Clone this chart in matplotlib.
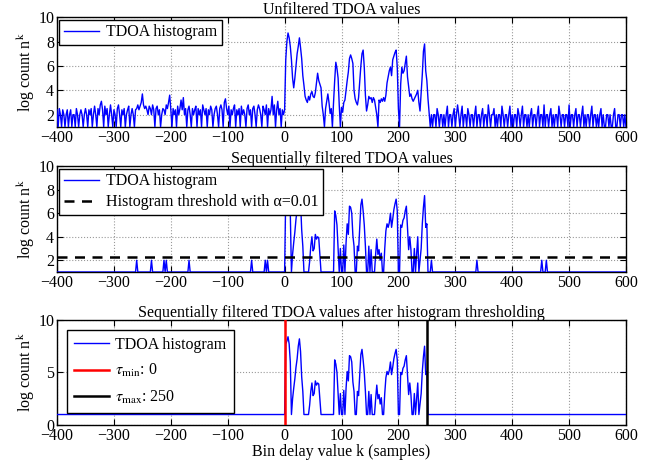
import numpy as np
import matplotlib
matplotlib.use("Agg")
import matplotlib.pyplot as plt

plt.rcParams['font.family'] = ['Liberation Serif', 'DejaVu Serif']
plt.rcParams['mathtext.fontset'] = 'stix'
plt.rcParams['font.size'] = 11.5

# ---------------- data ----------------
# Unfiltered histogram, noise region k = -400 .. -2 (step 2)
raw_left = [
    2.4, 1.0, 2.5, 2.0, 1.0, 2.4, 2.0, 1.0, 2.0, 2.4,
    1.0, 2.0, 2.4, 1.0, 2.0, 2.0, 1.0, 2.5, 2.0, 1.0,
    2.0, 2.4, 2.0, 1.0, 2.0, 2.5, 2.0, 1.0, 2.4, 2.0,
    2.5, 1.0, 2.0, 2.7, 2.0, 1.0, 2.5, 2.0, 2.8, 3.1,
    2.4, 1.0, 2.7, 2.0, 2.5, 1.0, 2.0, 2.8, 2.0, 1.0,
    2.4, 2.0, 1.0, 2.5, 2.8, 2.0, 1.0, 2.4, 2.0, 2.5,
    1.0, 2.0, 2.4, 2.7, 1.0, 2.0, 2.5, 2.0, 1.0, 2.4,
    2.5, 2.8, 2.4, 2.7, 3.0, 3.7, 2.8, 2.5, 2.7, 2.4,
    2.0, 2.7, 2.5, 2.0, 2.8, 2.4, 1.0, 2.5, 2.7, 2.0,
    2.4, 1.0, 2.0, 2.5, 2.4, 2.0, 2.8, 2.5, 3.0, 3.6,
    2.4, 1.0, 2.5, 2.0, 2.4, 1.0, 2.7, 2.0, 2.5, 3.2,
    2.4, 3.4, 2.0, 2.5, 1.0, 2.4, 2.7, 2.0, 1.0, 2.5,
    2.0, 2.4, 2.7, 1.0, 2.5, 2.0, 2.4, 1.0, 2.8, 2.4,
    2.0, 2.5, 1.0, 2.4, 2.0, 2.7, 2.4, 1.0, 2.0, 2.5,
    2.7, 2.0, 1.0, 2.5, 2.8, 2.4, 1.0, 3.0, 3.3, 2.5,
    2.0, 2.7, 1.0, 2.4, 2.0, 2.5, 2.8, 1.0, 2.4, 2.0,
    2.5, 1.0, 2.7, 2.0, 2.4, 2.0, 1.0, 2.5, 2.8, 2.0,
    2.4, 1.0, 2.5, 2.7, 2.0, 1.0, 2.4, 2.8, 2.5, 2.0,
    1.0, 2.7, 2.4, 2.0, 2.8, 1.0, 2.5, 2.0, 2.4, 3.5,
    2.0, 2.8, 1.0, 2.4, 3.1, 2.0, 2.5, 1.0, 2.4, 2.0,
]

# Unfiltered histogram, signal region k = 0 .. 250 (step 2)
raw_signal = [
    2.4, 6.5, 8.0, 8.7, 8.3, 7.6, 6.5, 5.0, 4.2, 5.0,
    6.0, 7.0, 7.6, 8.3, 7.5, 6.6, 5.2, 4.4, 3.5, 3.2,
    3.0, 3.5, 3.2, 3.7, 3.9, 3.5, 3.4, 3.8, 4.6, 5.4,
    4.8, 4.5, 4.2, 2.7, 2.0, 1.0, 2.5, 3.1, 3.7, 3.0,
    2.1, 2.5, 1.0, 3.0, 4.8, 6.3, 5.8, 5.0, 2.8, 1.0,
    2.6, 2.2, 3.0, 3.2, 4.0, 4.8, 5.5, 6.6, 6.9, 6.6,
    6.2, 4.0, 3.3, 3.0, 2.8, 3.4, 4.7, 6.0, 7.0, 7.3,
    5.9, 3.6, 2.3, 2.8, 3.5, 3.3, 3.4, 3.0, 3.4, 3.2,
    2.6, 2.0, 1.0, 3.2, 3.0, 3.3, 3.1, 3.4, 3.1, 3.6,
    4.6, 5.1, 5.6, 5.9, 5.2, 6.5, 6.8, 7.1, 7.3, 5.9,
    2.5, 1.0, 4.5, 5.9, 5.4, 5.6, 6.2, 6.8, 5.1, 4.3,
    3.5, 3.7, 3.3, 3.1, 3.3, 3.5, 3.7, 4.0, 3.0, 2.3,
    3.8, 5.3, 7.2, 7.8, 5.6, 4.8,
]

# Unfiltered histogram, noise region k = 252 .. 600 (step 2)
raw_right = [
    3.3, 2.1, 1.0, 2.0, 1.0, 2.0, 2.0, 1.0, 2.5, 2.0,
    1.0, 2.0, 2.0, 1.0, 2.0, 1.0, 2.0, 2.7, 1.0, 2.0,
    2.0, 1.0, 2.0, 2.5, 1.0, 2.0, 2.8, 2.0, 1.0, 2.0,
    2.7, 1.0, 2.0, 2.0, 1.0, 2.5, 2.0, 1.0, 2.0, 2.0,
    1.0, 2.0, 2.7, 1.0, 2.0, 2.0, 1.0, 2.0, 2.5, 1.0,
    2.0, 2.0, 1.0, 2.8, 2.0, 1.0, 2.0, 2.0, 2.5, 1.0,
    2.0, 1.0, 2.0, 2.0, 1.0, 2.7, 2.0, 1.0, 2.0, 2.0,
    1.0, 2.0, 2.7, 1.0, 2.0, 1.0, 2.0, 2.0, 1.0, 2.5,
    2.0, 1.0, 2.0, 2.7, 1.0, 2.0, 2.0, 1.0, 2.0, 1.0,
    2.0, 2.5, 1.0, 2.0, 2.0, 1.0, 2.0, 2.7, 1.0, 2.0,
    2.0, 1.0, 2.8, 1.0, 2.0, 2.0, 1.0, 2.0, 2.5, 1.0,
    2.0, 1.0, 2.0, 2.0, 1.0, 2.7, 2.0, 1.0, 2.0, 2.0,
    1.0, 2.0, 2.0, 1.0, 2.8, 1.0, 2.0, 2.0, 1.0, 2.0,
    2.5, 1.0, 2.0, 2.0, 1.0, 2.0, 2.7, 1.0, 2.0, 1.0,
    2.0, 2.0, 1.0, 2.0, 2.7, 1.0, 2.0, 2.0, 1.0, 2.0,
    1.0, 2.0, 2.5, 1.0, 2.0, 1.0, 1.0, 2.0, 2.0, 1.0,
    2.0, 1.0, 1.0, 2.0, 2.5, 1.0, 1.0, 2.0, 2.0, 1.0,
    2.0, 2.0, 1.0, 2.0, 1.0,
]

# Sequentially filtered histogram, signal region k = 0 .. 250 (step 2)
filt_signal = [
    1.0, 7.7, 8.0, 8.4, 7.7, 6.0, 1.0, 2.5, 3.5, 4.4,
    5.5, 6.3, 7.5, 8.2, 7.0, 4.6, 3.2, 1.0, 1.0, 1.0,
    1.0, 1.0, 1.9, 3.2, 4.0, 2.8, 3.0, 4.2, 3.8, 4.0,
    3.9, 2.5, 1.0, 1.0, 1.0, 1.0, 1.0, 1.0, 1.0, 1.0,
    1.0, 1.0, 1.0, 1.0, 6.2, 5.8, 5.0, 3.0, 1.0, 3.0,
    1.0, 1.0, 3.3, 1.0, 3.5, 5.1, 4.2, 6.6, 6.5, 6.0,
    4.1, 3.2, 1.0, 1.0, 3.2, 2.8, 4.8, 6.7, 7.2, 6.2,
    5.0, 3.2, 1.0, 1.0, 3.2, 1.0, 2.9, 1.0, 1.0, 1.0,
    2.5, 3.8, 2.5, 2.9, 2.0, 2.6, 1.0, 1.0, 3.0, 4.5,
    5.1, 4.8, 5.2, 6.0, 4.8, 5.5, 6.3, 6.8, 7.2, 6.2,
    1.0, 1.0, 5.0, 4.8, 5.4, 5.6, 6.2, 6.6, 4.8, 2.9,
    4.0, 2.9, 1.0, 1.0, 3.0, 1.0, 2.5, 4.0, 1.0, 2.0,
    3.0, 5.1, 6.5, 7.5, 4.8, 5.1,
]

# Isolated surviving bins outside the signal region (filtered panel)
filt_spike_k = [-260, -234, -212, -208, -168, -58, -34, -30, 258, 338, 452, 460]
filt_spike_val = [2.0] * len(filt_spike_k)
floor_val = 1.0
threshold = 2.3
tau_min = 0
tau_max = 250

# ---------------- assemble ----------------
k_left = -400 + 2 * np.arange(len(raw_left))
k_sig = 0 + 2 * np.arange(len(raw_signal))
k_right = 252 + 2 * np.arange(len(raw_right))
k_raw = np.concatenate([k_left, k_sig, k_right])
v_raw = np.concatenate([raw_left, raw_signal, raw_right])

k_fs = 2 * np.arange(len(filt_signal))
k_all = np.arange(-400, 601, 2)
v_mid = np.full(k_all.shape, floor_val)
for kk, vv in zip(k_fs, filt_signal):
    v_mid[k_all == kk] = vv
for kk, vv in zip(filt_spike_k, filt_spike_val):
    v_mid[k_all == kk] = vv

v_bot = np.full(k_all.shape, floor_val)
for kk, vv in zip(k_fs, filt_signal):
    v_bot[k_all == kk] = vv

# ---------------- plot ----------------
fig = plt.figure(figsize=(6.57, 4.63), dpi=100)
L, W = 0.0868, 0.866
ax1 = fig.add_axes([L, 0.726, W, 0.237])
ax2 = fig.add_axes([L, 0.4125, W, 0.2285])
ax3 = fig.add_axes([L, 0.082, W, 0.227])

blue = (0, 0, 1)
FS = 11.5

def style(ax):
    ax.set_xlim(-400, 600)
    ax.set_xticks(np.arange(-400, 601, 100))
    ax.set_xticklabels([str(t).replace('-', '\u2212') for t in range(-400, 601, 100)])
    ax.tick_params(direction='in', top=True, right=True, length=4, labelsize=FS, pad=2)
    ax.grid(True, linestyle=':', color='#999999', linewidth=0.8)
    for s in ax.spines.values():
        s.set_linewidth(1.0)
    ax.set_ylabel(r'log count n$^{\mathrm{k}}$', fontsize=FS, labelpad=1)

legkw = dict(loc='upper left', fancybox=False, edgecolor='black', framealpha=1,
             handlelength=2.2, fontsize=FS, handletextpad=0.4)

# Panel 1
ax1.plot(k_raw, v_raw, color=blue, lw=1.0, label='TDOA histogram', zorder=3)
ax1.set_ylim(1, 10)
ax1.set_yticks([2, 4, 6, 8, 10])
style(ax1)
ax1.set_title('Unfiltered TDOA values', fontsize=FS, pad=2)
lg = ax1.legend(borderaxespad=0.15, borderpad=0.3, **legkw)
lg.get_frame().set_linewidth(1.0)

# Panel 2
ax2.plot(k_all, v_mid, color=blue, lw=1.0, label='TDOA histogram', zorder=3)
ax2.axhline(threshold, color='black', ls='--', lw=1.8, dashes=(4, 3),
            label='Histogram threshold with \u03b1=0.01', zorder=4)
ax2.set_ylim(1, 10)
ax2.set_yticks([2, 4, 6, 8, 10])
style(ax2)
ax2.set_title('Sequentially filtered TDOA values', fontsize=FS, pad=2)
lg = ax2.legend(borderaxespad=0.15, borderpad=0.3, labelspacing=0.3, **legkw)
lg.get_frame().set_linewidth(1.0)
lg.set_zorder(10)

# Panel 3
ax3.plot(k_all, v_bot, color=blue, lw=1.0, label='TDOA histogram', zorder=3)
ax3.axvline(tau_min, color='red', lw=1.8, label=r'$\tau_{\mathrm{min}}$: %d' % tau_min, zorder=4)
ax3.axvline(tau_max, color='black', lw=1.8, label=r'$\tau_{\mathrm{max}}$: %d' % tau_max, zorder=4)
ax3.set_ylim(0, 10)
ax3.set_yticks([0, 5, 10])
style(ax3)
ax3.set_title('Sequentially filtered TDOA values after histogram thresholding', fontsize=FS, pad=2)
ax3.set_xlabel('Bin delay value k (samples)', fontsize=FS, labelpad=0)
lg = ax3.legend(borderaxespad=0.6, borderpad=0.45, labelspacing=0.6, **legkw)
lg.get_frame().set_linewidth(1.0)
lg.set_zorder(10)

fig.savefig('out.png', dpi=100)
